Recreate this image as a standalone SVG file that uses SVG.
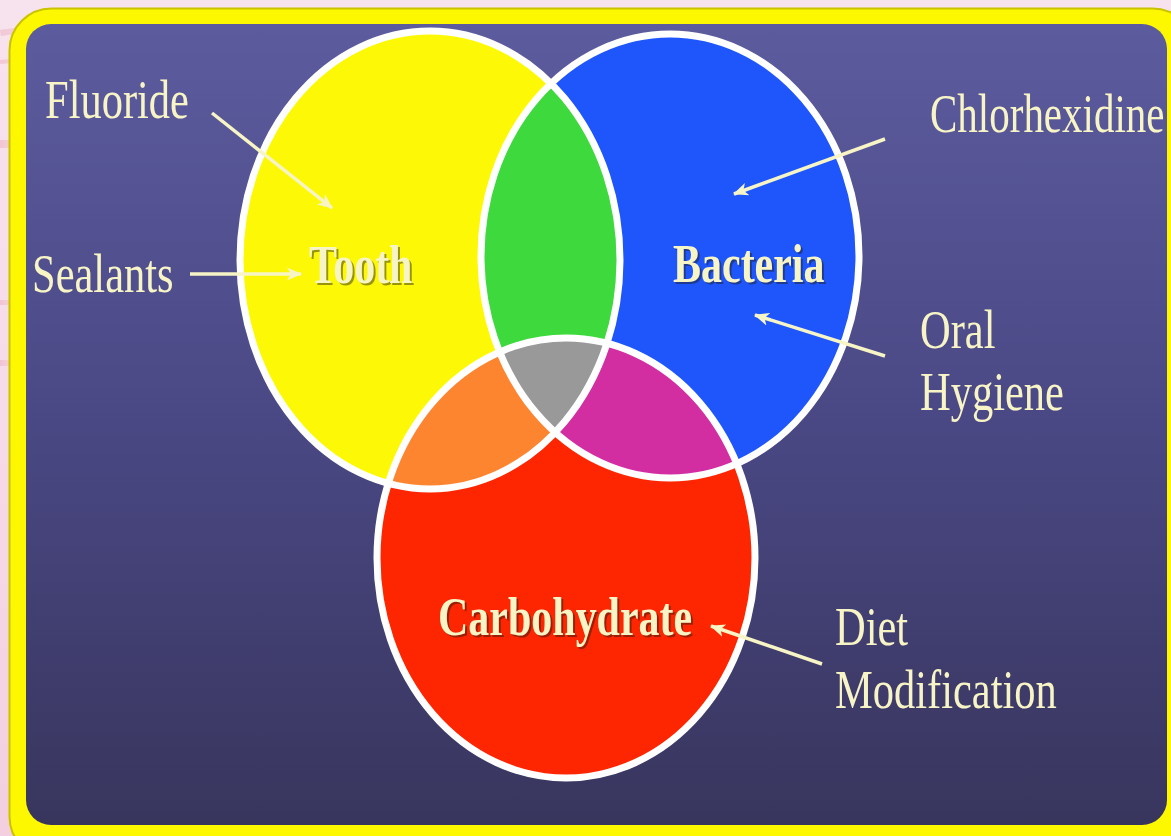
<svg xmlns="http://www.w3.org/2000/svg" width="1171" height="836" viewBox="0 0 1171 836">
<defs>
<linearGradient id="bg" x1="0" y1="0" x2="0" y2="1">
<stop offset="0" stop-color="#f7e3ee"/>
<stop offset="0.5" stop-color="#f6dbe8"/>
<stop offset="1" stop-color="#f3cfe0"/>
</linearGradient>
<linearGradient id="panel" x1="0" y1="0" x2="0" y2="1">
<stop offset="0" stop-color="#5c5b9e"/>
<stop offset="0.5" stop-color="#4a4884"/>
<stop offset="1" stop-color="#38355d"/>
</linearGradient>
<linearGradient id="streak" x1="0" y1="0" x2="1" y2="0">
<stop offset="0" stop-color="#e88a9c" stop-opacity="0.6"/>
<stop offset="1" stop-color="#f5d8e4" stop-opacity="0"/>
</linearGradient>
<ellipse id="eT" cx="430" cy="260" rx="190" ry="229"/>
<ellipse id="eB" cx="670" cy="256" rx="189" ry="222"/>
<ellipse id="eC" cx="566" cy="558" rx="189" ry="220"/>
<clipPath id="cT"><use href="#eT"/></clipPath>
<clipPath id="cB"><use href="#eB"/></clipPath>
<marker id="ah" markerWidth="18" markerHeight="16" refX="14" refY="8" orient="auto" markerUnits="userSpaceOnUse">
<path d="M0,1.5 L15,8 L0,14.5 L4,8 Z" fill="#f7f4c6"/>
</marker>
</defs>
<style>
.lbl{font-family:"Liberation Serif","Times New Roman",serif;font-size:42.5px;fill:#f7f4c6}
.big{font-family:"Liberation Serif","Times New Roman",serif;font-size:42px;font-weight:bold;fill:#f7f4c6}
.sh{font-family:"Liberation Serif","Times New Roman",serif;font-size:42px;font-weight:bold;fill:#1e1a10;fill-opacity:0.45}
.ring{fill:none;stroke:#ffffff;stroke-width:7}
.arr{stroke:#f7f4c6;stroke-width:3.5;fill:none;marker-end:url(#ah)}
</style>

<rect x="0" y="0" width="1171" height="836" fill="url(#bg)"/>
<g opacity="0.5">
<rect x="0" y="30" width="120" height="6" fill="url(#streak)" transform="rotate(-8 0 30)"/>
<rect x="0" y="60" width="90" height="4" fill="url(#streak)" transform="rotate(-5 0 60)"/>
<rect x="0" y="140" width="60" height="8" fill="url(#streak)"/>
<rect x="0" y="300" width="40" height="5" fill="url(#streak)"/>
<rect x="0" y="360" width="30" height="6" fill="url(#streak)"/>
</g>

<g id="frame">
<rect x="9" y="8" width="1185" height="850" rx="42" fill="#fdf700"/>
<rect x="9.5" y="8.5" width="1185" height="850" rx="42" fill="none" stroke="#c9c300" stroke-width="2"/>
<rect x="26" y="24" width="1141" height="801" rx="25" fill="url(#panel)"/>
</g>

<g id="venn">
<use href="#eT" fill="#fdf906"/>
<use href="#eB" fill="#1e56fc"/>
<use href="#eC" fill="#fe2601"/>
<g clip-path="url(#cT)"><use href="#eB" fill="#3dd93d"/></g>
<g clip-path="url(#cT)"><use href="#eC" fill="#fe8530"/></g>
<g clip-path="url(#cB)"><use href="#eC" fill="#d22ea2"/></g>
<g clip-path="url(#cT)"><g clip-path="url(#cB)"><use href="#eC" fill="#999999"/></g></g>
<use href="#eT" class="ring"/>
<use href="#eB" class="ring"/>
<use href="#eC" class="ring"/>
</g>

<g id="node-tooth">
<text class="sh" transform="translate(311,285) scale(1,1.3)">Tooth</text>
<text class="big" transform="translate(309,283) scale(1,1.3)">Tooth</text>
</g>
<g id="node-bacteria">
<text class="sh" transform="translate(675,284) scale(1,1.3)">Bacteria</text>
<text class="big" transform="translate(673,282) scale(1,1.3)">Bacteria</text>
</g>
<g id="node-carbohydrate">
<text class="sh" transform="translate(440,637) scale(1,1.3)">Carbohydrate</text>
<text class="big" transform="translate(438,635) scale(1,1.3)">Carbohydrate</text>
</g>

<g id="node-fluoride"><text class="lbl" transform="translate(45,118) scale(1,1.3)">Fluoride</text></g>
<g id="node-sealants"><text class="lbl" transform="translate(32,292) scale(1,1.3)">Sealants</text></g>
<g id="node-chlorhexidine"><text class="lbl" style="font-size:41px" transform="translate(930,132) scale(1,1.33)">Chlorhexidine</text></g>
<g id="node-oral-hygiene">
<text class="lbl" transform="translate(920,348) scale(1,1.3)">Oral</text>
<text class="lbl" transform="translate(920,410) scale(1,1.3)">Hygiene</text>
</g>
<g id="node-diet-modification">
<text class="lbl" transform="translate(835,645) scale(1,1.3)">Diet</text>
<text class="lbl" transform="translate(835,708) scale(1,1.3)">Modification</text>
</g>

<g id="connectors">
<line class="arr" x1="212" y1="113" x2="332" y2="208"/>
<line class="arr" x1="190" y1="274" x2="301" y2="274"/>
<line class="arr" x1="885" y1="139" x2="734" y2="194"/>
<line class="arr" x1="885" y1="356" x2="755" y2="315"/>
<line class="arr" x1="822" y1="664" x2="711" y2="626"/>
</g>
</svg>
